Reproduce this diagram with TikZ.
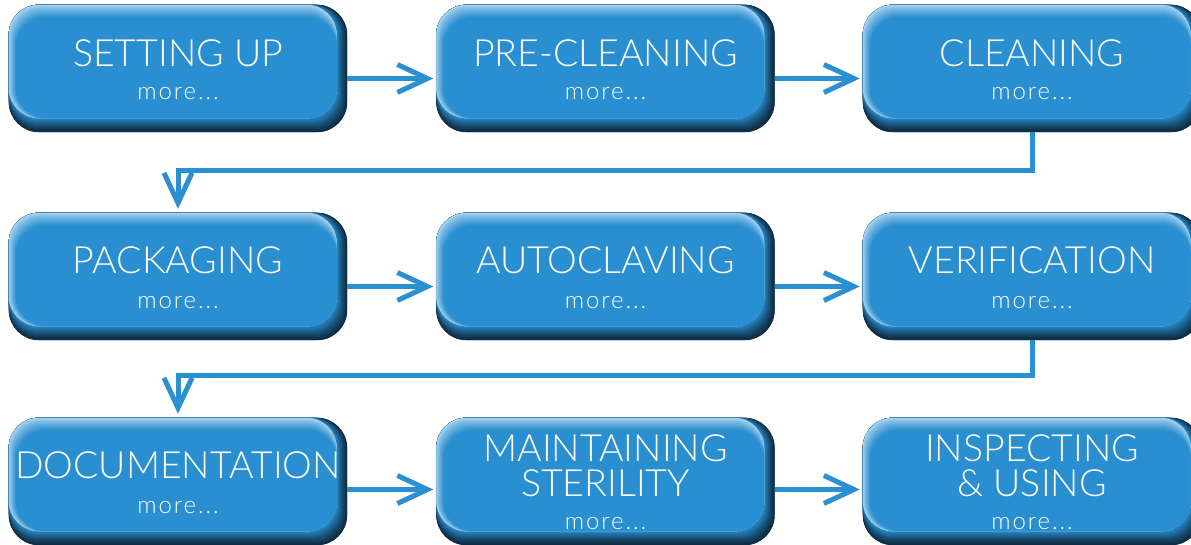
\documentclass[tikz,border=0pt]{standalone}
\usepackage{fontspec}
\newfontfamily\boxfont{Lato}[UprightFont={* Light}]
\newfontfamily\morefont{Lato}[UprightFont={* Light},LetterSpace=8]
\usetikzlibrary{arrows.meta}
\definecolor{boxbase}{HTML}{2A8FD0}
\definecolor{boxtop}{HTML}{A8D3EE}
\definecolor{boxbottom}{HTML}{0E2D44}
\definecolor{linecol}{HTML}{2B90D1}
\newcommand\bevelbox[1]{%
  \foreach \i in {0,...,14}{%
    \pgfmathtruncatemacro\p{100*(\i/14)^1.25}%
    \fill[boxbase!\p!boxbottom, rounded corners=30pt]
      (#1.north west) rectangle ([xshift={-0.75pt*\i}, yshift={1.0pt*\i}]#1.south east);
  }%
  \foreach \j in {0,...,12}{%
    \pgfmathtruncatemacro\q{100*(\j/12)^0.85}%
    \fill[boxbase!\q!boxtop, rounded corners=30pt]
      ([xshift={0.6pt*\j}, yshift={-1.0pt*\j}]#1.north west) rectangle ([xshift=-10.5pt, yshift=14pt]#1.south east);
  }%
}
\begin{document}
\begin{tikzpicture}[x=1pt,y=-1pt,
  box/.style={rectangle, rounded corners=30pt, minimum width=338pt, minimum height=127pt,
    inner sep=0pt, fill=boxbottom},
  title/.style={anchor=base, text=white, font=\boxfont\fontsize{37.5}{37.5}\selectfont, inner sep=0pt},
  more/.style={anchor=base, text=white, font=\morefont\fontsize{24}{24}\selectfont, inner sep=0pt},
  conn/.style={draw=linecol, line width=5pt, -{Straight Barb[length=30pt,width=28pt]}, shorten >=3pt}
]
\useasboundingbox (0,0) rectangle (1191,544);

% boxes
\node[box] (b1) at (178,68.5) {};
\node[box] (b2) at (605.5,68.5) {};
\node[box] (b3) at (1032,68.5) {};
\node[box] (b4) at (178,276.5) {};
\node[box] (b5) at (605.5,276.5) {};
\node[box] (b6) at (1032,276.5) {};
\node[box] (b7) at (178,481.5) {};
\node[box] (b8) at (605.5,481.5) {};
\node[box] (b9) at (1032,481.5) {};
\bevelbox{b1}\bevelbox{b2}\bevelbox{b3}
\bevelbox{b4}\bevelbox{b5}\bevelbox{b6}
\bevelbox{b7}\bevelbox{b8}\bevelbox{b9}

% texts
\node[title] (t1) at (178,66) {SETTING UP};
\node[more]  (m1) at (178,99) {more...};
\node[title] (t2) at (605.5,66) {PRE-CLEANING};
\node[more]  (m2) at (605.5,99) {more...};
\node[title] (t3) at (1032,66) {CLEANING};
\node[more]  (m3) at (1032,99) {more...};

\node[title] (t4) at (178,273) {PACKAGING};
\node[more]  (m4) at (178,308) {more...};
\node[title] (t5) at (605.5,273) {AUTOCLAVING};
\node[more]  (m5) at (605.5,308) {more...};
\node[title] (t6) at (1032,273) {VERIFICATION};
\node[more]  (m6) at (1032,308) {more...};

\node[title] (t7) at (178,478) {DOCUMENTATION};
\node[more]  (m7) at (178,513) {more...};
\node[title] (t8a) at (605.5,461) {MAINTAINING};
\node[title] (t8b) at (605.5,496) {STERILITY};
\node[more]  (m8) at (605.5,529) {more...};
\node[title] (t9a) at (1032,461) {INSPECTING};
\node[title] (t9b) at (1032,496) {\&~USING};
\node[more]  (m9) at (1032,529) {more...};

% connectors
\draw[conn] ([yshift=-10pt]b1.east) -- ([yshift=-10pt]b2.west);
\draw[conn] ([yshift=-10pt]b2.east) -- ([yshift=-10pt]b3.west);
\draw[conn] (b3.south) -- ++(0,38) -| ([yshift=1pt]b4.north);
\draw[conn] ([yshift=-10pt]b4.east) -- ([yshift=-10pt]b5.west);
\draw[conn] ([yshift=-10pt]b5.east) -- ([yshift=-10pt]b6.west);
\draw[conn] (b6.south) -- ++(0,35) -| ([yshift=1pt]b7.north);
\draw[conn] ([yshift=-8pt]b7.east) -- ([yshift=-8pt]b8.west);
\draw[conn] ([yshift=-8pt]b8.east) -- ([yshift=-8pt]b9.west);
\end{tikzpicture}
\end{document}
